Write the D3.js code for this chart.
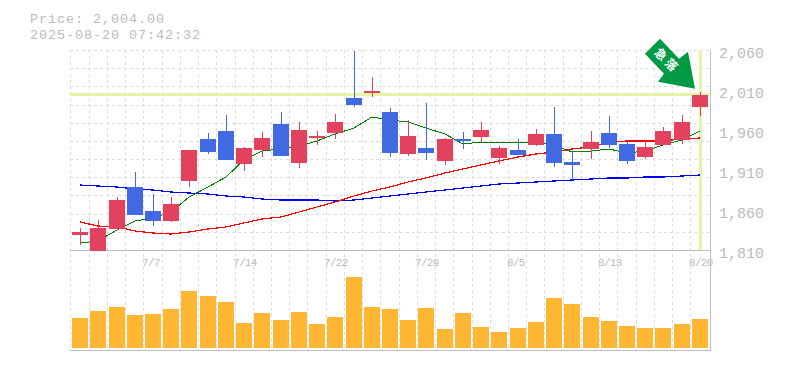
<!DOCTYPE html>
<html>
<head>
<meta charset="utf-8">
<script src="https://cdn.jsdelivr.net/npm/d3@7"></script>
<style>
  html, body { margin: 0; padding: 0; background: #fff; }
  svg { display: block; }
  text { font-family: "Liberation Mono", monospace; fill: #bbb; }
</style>
</head>
<body>
<div id="chart"></div>
<script>
// DATA
var dateLabels = ['7/7', '7/14', '7/22', '7/29', '8/5', '8/13', '8/20']
var dateLabelIndex = [4, 9, 14, 19, 24, 29, 34]
var priceTicks = [2060, 2010, 1960, 1910, 1860, 1810]
var lastPrice = 2004
var titleLines = ['Price: 2,004.00', '2025-08-20 07:42:32']

var open = [1829, 1809, 1836.5, 1889, 1859, 1846.5, 1896.5, 1949, 1959, 1917.5, 1935, 1967.5, 1919, 1950, 1956.5, 2000, 2006.5, 1982.5, 1930, 1937.5, 1921.5, 1949, 1951.5, 1925, 1935, 1941.5, 1955, 1920, 1936.5, 1956.5, 1942.5, 1926.5, 1941.5, 1947.5, 1989]
var high = [1837.5, 1847.5, 1876.5, 1907.5, 1880, 1876.5, 1935, 1956.5, 1979, 1939, 1957.5, 1982.5, 1970, 1959, 1980, 2059, 2026.5, 1987.5, 1972.5, 1994, 1950, 1957.5, 1970, 1940, 1949, 1961.5, 1989, 1934, 1959, 1977.5, 1947.5, 1947.5, 1964, 1979, 2007.5]
var low = [1816.5, 1809, 1835, 1854, 1840, 1845, 1889, 1930, 1922.5, 1909, 1926.5, 1927.5, 1912.5, 1941.5, 1949, 1989, 2001.5, 1926.5, 1927.5, 1922.5, 1916.5, 1936.5, 1945, 1917.5, 1929, 1940, 1914, 1897.5, 1924, 1937.5, 1917.5, 1924, 1941.5, 1942.5, 1977.5]
var close = [1832.5, 1837.5, 1872.5, 1854, 1846.5, 1867.5, 1935, 1932.5, 1922.5, 1937.5, 1950, 1927.5, 1960, 1952.5, 1970, 1991.5, 2009, 1931.5, 1952.5, 1931.5, 1949, 1946.5, 1960, 1937.5, 1929, 1955, 1919, 1916.5, 1945, 1941.5, 1921.5, 1939, 1959, 1970, 2004]

var maShort = [1818.75, 1821.25, 1835, 1846.25, 1850, 1857.5, 1876.25, 1888.75, 1901.25, 1922.5, 1933.75, 1936.25, 1940, 1946.25, 1955, 1962.5, 1976.25, 1972.5, 1970, 1962.5, 1955, 1942.5, 1945, 1945, 1943.75, 1945, 1941.25, 1932.5, 1933.75, 1936.25, 1931.25, 1933.75, 1941.25, 1947.5, 1958.75]
var maMid = [1845, 1840, 1838.75, 1833.75, 1831.25, 1830, 1832.5, 1836.25, 1838.75, 1843.75, 1848.75, 1851.25, 1857.5, 1863.75, 1870, 1877.5, 1883.75, 1888.75, 1895, 1900, 1906.25, 1911.25, 1916.25, 1921.25, 1926.25, 1930, 1932.5, 1936.25, 1938.75, 1945, 1946.25, 1946.25, 1946.25, 1948.75, 1950]
var maLong = [1891.25, 1890, 1888.75, 1886.25, 1885, 1882.5, 1881.25, 1880, 1877.5, 1876.25, 1873.75, 1872.5, 1872.5, 1872.5, 1871.25, 1872.5, 1875, 1877.5, 1880, 1882.5, 1885, 1887.5, 1890, 1892.5, 1893.75, 1895, 1896.25, 1897.5, 1898.75, 1900, 1900, 1901.25, 1901.25, 1902.5, 1903.75]

// volume read in pixels of bar height, the picture has no volume axis
var volume = [30, 37, 41, 33, 34, 39, 57, 52, 46, 25, 35, 28, 36, 24, 31, 71, 41, 39, 28, 40, 19, 35, 21, 16, 20, 26, 50, 44, 31, 27, 22, 20, 20, 24, 29]

// CONSTANTS
var width = 785
var height = 370
var plot = { left: 70, right: 710, top: 50, mid: 250, bottom: 350 }
var upColor = '#e3425f'
var downColor = '#4169e1'
var guideColor = '#e4f5a8'
var gridColor = '#ddd'
var axisColor = '#bbb'
var indexes = d3.range(open.length)

var svg = d3.select('#chart').append('svg')
  .attr('width', width)
  .attr('height', height)

var xScale = d3.scaleBand()
  .domain(indexes)
  .range([plot.left + 1, plot.right - 1])

var yScale = d3.scaleLinear()
  .domain([1810, 2060])
  .range([plot.mid, plot.top])

var volScale = d3.scaleLinear()
  .domain([0, 100])
  .range([plot.bottom - 2, plot.bottom - 102])

function cx (i) { return Math.round(xScale(i) + xScale.bandwidth() / 2) }
function py (v) { return Math.round(yScale(v)) }

// GRID
var gridG = svg.append('g')
  .attr('stroke', gridColor)
  .attr('stroke-dasharray', '3,3')
  .attr('shape-rendering', 'crispEdges')

gridG.selectAll('.v')
  .data(d3.range(0, open.length))
  .enter().append('line')
  .attr('x1', function (i) { return i === 0 ? plot.left + 0.5 : Math.floor(xScale(i)) + 0.5 })
  .attr('x2', function (i) { return i === 0 ? plot.left + 0.5 : Math.floor(xScale(i)) + 0.5 })
  .attr('y1', plot.top)
  .attr('y2', plot.bottom)

gridG.selectAll('.h')
  .data(d3.range(0, 11))
  .enter().append('line')
  .attr('x1', plot.left)
  .attr('x2', plot.right)
  .attr('y1', function (i) { return Math.round(plot.top + i * 200 / 11) + 0.5 })
  .attr('y2', function (i) { return Math.round(plot.top + i * 200 / 11) + 0.5 })

// FRAME
var frameG = svg.append('g')
  .attr('stroke', axisColor)
  .attr('shape-rendering', 'crispEdges')
frameG.append('line')
  .attr('x1', plot.left).attr('x2', plot.right + 1)
  .attr('y1', plot.mid + 0.5).attr('y2', plot.mid + 0.5)
frameG.append('line')
  .attr('x1', plot.left).attr('x2', plot.right + 1)
  .attr('y1', plot.bottom + 0.5).attr('y2', plot.bottom + 0.5)
frameG.append('line')
  .attr('x1', plot.right + 0.5).attr('x2', plot.right + 0.5)
  .attr('y1', plot.top).attr('y2', plot.bottom)

// CURRENT PRICE GUIDES
svg.append('rect')
  .attr('x', plot.left)
  .attr('width', plot.right - plot.left)
  .attr('y', Math.floor(yScale(lastPrice)) - 1)
  .attr('height', 3)
  .attr('fill', guideColor)
svg.append('rect')
  .attr('x', cx(open.length - 1) - 1)
  .attr('width', 3)
  .attr('y', plot.top)
  .attr('height', plot.mid - plot.top)
  .attr('fill', guideColor)

// MOVING AVERAGES
var line = d3.line()
  .x(function (d, i) { return cx(i) })
  .y(function (d) { return yScale(d) })

svg.selectAll('.ma')
  .data([
    { values: maLong, color: '#0000ff', w: 1.2 },
    { values: maMid, color: '#ff0000', w: 1.2 },
    { values: maShort, color: '#008000', w: 1 }
  ])
  .enter().append('path')
  .attr('class', 'ma')
  .attr('d', function (s) { return line(s.values) })
  .attr('fill', 'none')
  .attr('stroke', function (s) { return s.color })
  .attr('stroke-width', function (s) { return s.w })
  .attr('shape-rendering', 'crispEdges')

// CANDLES
var candles = svg.selectAll('.candle')
  .data(indexes)
  .enter().append('g')
  .attr('class', 'candle')
  .attr('shape-rendering', 'crispEdges')
  .attr('fill', function (i) { return close[i] >= open[i] ? upColor : downColor })

candles.append('rect')
  .attr('x', function (i) { return cx(i) })
  .attr('width', 1)
  .attr('y', function (i) { return py(high[i]) })
  .attr('height', function (i) { return py(low[i]) - py(high[i]) })

candles.append('rect')
  .attr('x', function (i) { return cx(i) - 8 })
  .attr('width', 16)
  .attr('y', function (i) { return py(Math.max(open[i], close[i])) })
  .attr('height', function (i) { return Math.max(2, py(Math.min(open[i], close[i])) - py(Math.max(open[i], close[i]))) })

// VOLUME
svg.selectAll('.vol')
  .data(indexes)
  .enter().append('rect')
  .attr('class', 'vol')
  .attr('x', function (i) { return cx(i) - 8 })
  .attr('width', 16)
  .attr('y', function (i) { return volScale(volume[i]) })
  .attr('height', function (i) { return volScale(0) - volScale(volume[i]) })
  .attr('fill', '#ffb733')
  .attr('shape-rendering', 'crispEdges')

// ARROW, anchored on the last candle, drawn tail up-left
var arrowG = svg.append('g')
  .attr('transform', 'translate(' + (cx(open.length - 1) - 5) + ',' + (yScale(lastPrice) - 6) + ')')
arrowG.append('path')
  .attr('d', 'M-35,-50 L-50,-35 L-31,-15 L-37,-7 L0,0 L-7,-37 L-16,-30 Z')
  .attr('fill', '#009944')
arrowG.append('text')
  .attr('transform', 'translate(-28,-28) rotate(45)')
  .attr('text-anchor', 'middle')
  .attr('dy', '0.35em')
  .style('font-family', '"Noto Sans CJK JP"')
  .style('font-size', '12px')
  .style('font-weight', 'bold')
  .style('letter-spacing', '3px')
  .style('fill', '#fff')
  .text('急落')

// TEXT
svg.selectAll('.title')
  .data(titleLines)
  .enter().append('text')
  .attr('class', 'title')
  .attr('x', 30)
  .attr('y', function (d, i) { return 23 + i * 15.5 })
  .style('font-size', '13.5px')
  .style('letter-spacing', '0.9px')
  .text(function (d) { return d })

svg.selectAll('.price')
  .data(priceTicks)
  .enter().append('text')
  .attr('class', 'price')
  .attr('x', 719)
  .attr('y', function (d) { return yScale(d) + 8 })
  .style('font-size', '15px')
  .text(function (d) { return d3.format(',')(d) })

svg.selectAll('.date')
  .data(dateLabels)
  .enter().append('text')
  .attr('class', 'date')
  .attr('x', function (d, i) { return cx(dateLabelIndex[i]) - 11 })
  .attr('y', 266)
  .style('font-size', '11px')
  .style('letter-spacing', '-0.7px')
  .text(function (d) { return d })
</script>
</body>
</html>
